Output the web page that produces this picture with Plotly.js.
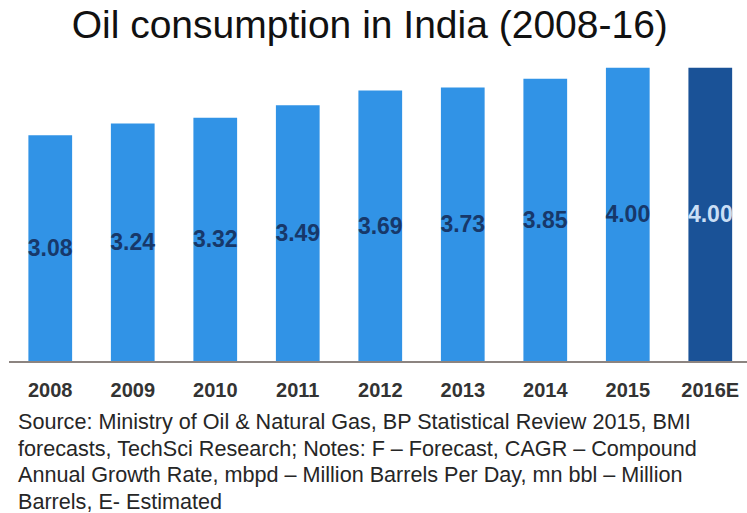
<!DOCTYPE html>
<html>
<head>
<meta charset="utf-8">
<script src="https://cdn.plot.ly/plotly-3.0.1.min.js"></script>
<style>
  html, body { margin: 0; padding: 0; background: #ffffff; }
  #chart { width: 747px; height: 513px; }
</style>
</head>
<body>
<div id="chart"></div>
<script>
// ---- Data ----
const years = ["2008", "2009", "2010", "2011", "2012", "2013", "2014", "2015", "2016E"];
const consumption = [3.08, 3.24, 3.32, 3.49, 3.69, 3.73, 3.85, 4.00, 4.00];
const chartTitle = "Oil consumption in India (2008-16)";
const sourceLines = [
  "Source: Ministry of Oil & Natural Gas, BP Statistical Review 2015, BMI",
  "forecasts, TechSci Research; Notes: F – Forecast, CAGR – Compound",
  "Annual Growth Rate, mbpd – Million Barrels Per Day, mn bbl – Million",
  "Barrels, E- Estimated"
];

// ---- Styles ----
const actualColor = "#3193e6";
const estimateColor = "#1a5297";
const actualLabelColor = "#17386a";
const estimateLabelColor = "#c9def5";
const isEstimate = years.map(y => y.endsWith("E"));

const trace = {
  type: "bar",
  x: years,
  y: consumption,
  width: 0.53,
  marker: { color: isEstimate.map(e => e ? estimateColor : actualColor), line: { width: 0 } },
  texttemplate: "%{y:.2f}",
  textposition: "inside",
  insidetextanchor: "middle",
  textangle: 0,
  constraintext: "none",
  textfont: {
    family: "Liberation Sans Narrow, Arial Narrow, Liberation Sans, Arial, sans-serif",
    size: 23,
    weight: "bold",
    color: isEstimate.map(e => e ? estimateLabelColor : actualLabelColor)
  },
  hoverinfo: "none"
};

const plotTop = 62, plotBottom = 361, H = 513;
const plotH = plotBottom - plotTop;
const pxToPaperY = px => (plotBottom - px) / plotH;

const annotations = sourceLines.map((line, i) => ({
  text: line,
  xref: "paper", yref: "paper",
  x: 0.0095, xanchor: "left",
  y: pxToPaperY(421.5 + i * 26.6), yanchor: "middle",
  showarrow: false,
  align: "left",
  font: { family: "Liberation Sans, Arial, sans-serif", size: 21.6, color: "#262626" }
}));

const layout = {
  width: 747, height: 513,
  margin: { l: 9, r: 0, t: plotTop, b: H - plotBottom, pad: 0 },
  paper_bgcolor: "#ffffff",
  plot_bgcolor: "#ffffff",
  showlegend: false,
  title: {
    text: chartTitle,
    x: 0.495, xanchor: "center", xref: "container",
    y: 1 - 24 / H, yanchor: "middle", yref: "container",
    font: { family: "Liberation Sans, Arial, sans-serif", size: 39, color: "#111111" }
  },
  xaxis: {
    type: "category",
    range: [-0.5, 8.445],
    showline: true, linecolor: "#8c8480", linewidth: 1.5,
    showgrid: false, zeroline: false,
    ticks: "", ticklabelstandoff: 10,
    tickfont: { family: "Liberation Sans, Arial, sans-serif", size: 20, weight: "bold", color: "#333333" },
    fixedrange: true
  },
  yaxis: {
    range: [0, 4.079],
    visible: false,
    showgrid: false, zeroline: false,
    fixedrange: true
  },
  annotations: annotations
};

Plotly.newPlot("chart", [trace], layout, { displayModeBar: false, staticPlot: true });
</script>
</body>
</html>
